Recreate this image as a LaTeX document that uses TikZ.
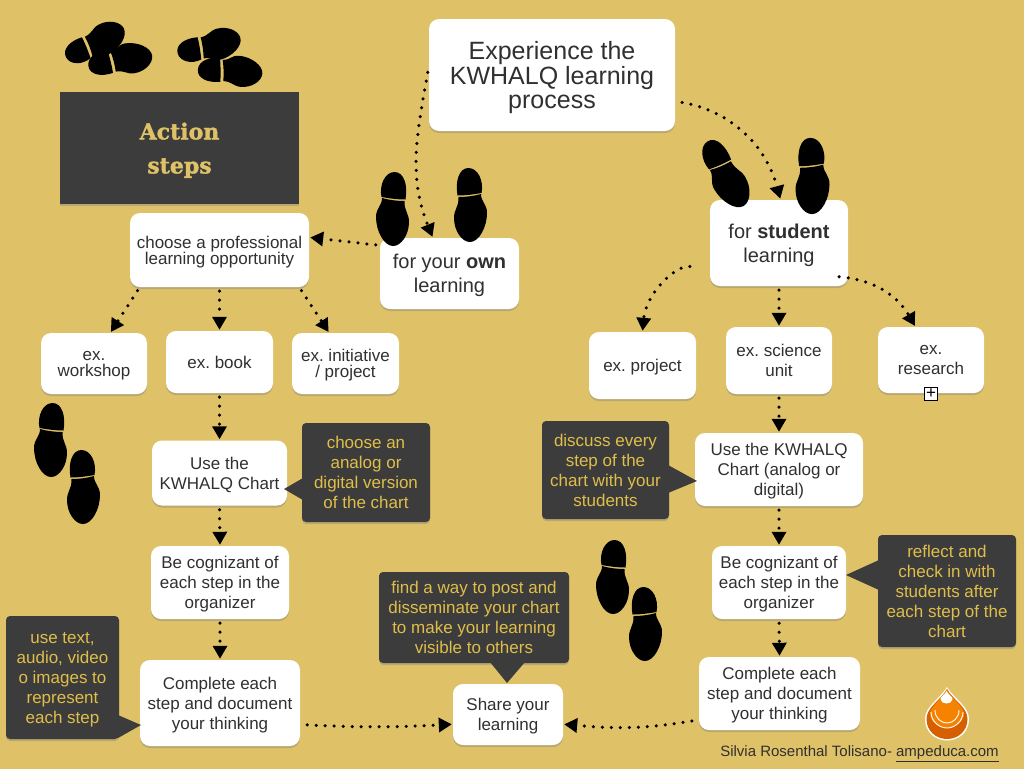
\documentclass[tikz,border=0pt]{standalone}
\usepackage{fontspec}
\setmainfont{Liberation Sans}
\newfontfamily\slabfont{DejaVu Serif}[FakeBold=1.6]
\usetikzlibrary{arrows.meta,shadows}
\definecolor{sandbg}{HTML}{DFC267}
\definecolor{darkbg}{HTML}{3C3C3C}
\definecolor{darktext}{HTML}{E0BE4A}
\definecolor{softink}{HTML}{303030}
\definecolor{dropdark}{HTML}{D65F00}
\definecolor{droplight}{HTML}{F58200}
\tikzset{
  softshadow/.style={drop shadow={shadow xshift=0pt,shadow yshift=-2pt,opacity=.4}},
  stepbox/.style={rectangle,rounded corners=10pt,fill=white,softshadow,align=center,inner sep=0pt,text=softink,text depth=0pt,font=\fontsize{17}{20}\selectfont},
  darkbox/.style={rectangle,rounded corners=4pt,fill=darkbg,softshadow,align=center,inner sep=0pt,text=darktext,text depth=0pt,font=\fontsize{17}{20}\selectfont},
  dotline/.style={line width=3.5pt,line cap=round,dash pattern=on 0pt off 9pt,shorten <=4pt,shorten >=1pt,-{Triangle[width=14pt,length=13pt]}},
  pics/shoeprint/.style={code={
    \fill[shift={(0,-#1)}] (-11.5,-12) .. controls (-14,-24) and (-8,-37) .. (1.5,-37) .. controls (11,-37) and (15,-24) .. (12.5,-9.5) .. controls (4,-9.5) and (-4,-10.7) .. (-11.5,-12) -- cycle;
    \fill (-11,-11) .. controls (-4,-9) and (4,-8) .. (11.5,-8) .. controls (11,2) and (16,4) .. (16,13) .. controls (16,26) and (8,37) .. (0,37) .. controls (-9,37) and (-17,22) .. (-17,8) .. controls (-17,-1) and (-11,-3) .. (-11,-11) -- cycle;
  }},
  pics/shoeprint/.default=0
}
\begin{document}
\frenchspacing
\begin{tikzpicture}[x=1pt,y=-1pt]
  \fill[sandbg] (0,0) rectangle (1024,769);
  \useasboundingbox (0,0) rectangle (1024,769);

  % Title and the two branches
  \node[stepbox,minimum width=246pt,minimum height=112pt,font=\fontsize{25}{24.5}\selectfont] (title) at (552,75) {Experience the\\KWHALQ learning\\process};
  \node[stepbox,minimum width=139pt,minimum height=71pt,font=\fontsize{20}{24}\selectfont] (own) at (449.5,273.5) {for your \textbf{own}\\learning};
  \node[stepbox,minimum width=138pt,minimum height=86pt,font=\fontsize{20}{24}\selectfont] (student) at (779,243) {for \textbf{student}\\learning};

  % Action steps heading
  \node[rectangle,fill=darkbg,softshadow,minimum width=239pt,minimum height=112pt,align=center,inner sep=0pt,text=sandbg,text depth=0pt,font=\fontsize{22}{34}\selectfont\slabfont\bfseries] (action) at (179.5,148) {Action\\steps};

  % Left column
  \node[stepbox,minimum width=179pt,minimum height=74pt,font=\fontsize{17}{16}\selectfont] (choose) at (219.5,250) {choose a professional\\learning opportunity};
  \node[stepbox,minimum width=106pt,minimum height=61pt,font=\fontsize{17}{16}\selectfont] (workshop) at (94,363.5) {ex.\\workshop};
  \node[stepbox,minimum width=107pt,minimum height=62pt] (book) at (219.5,362) {ex. book};
  \node[stepbox,minimum width=107pt,minimum height=61pt,font=\fontsize{17}{16}\selectfont] (initiative) at (345.5,363.5) {ex. initiative\\/ project};
  \node[stepbox,minimum width=135pt,minimum height=65pt] (chartL) at (219.5,473) {Use the\\KWHALQ Chart};
  \node[stepbox,minimum width=138pt,minimum height=73pt] (cogL) at (220,582.5) {Be cognizant of\\each step in the\\organizer};
  \node[stepbox,minimum width=160pt,minimum height=86pt] (docL) at (220,703) {Complete each\\step and document\\your thinking};

  % Right column
  \node[stepbox,minimum width=107pt,minimum height=67pt] (project) at (642.5,365.5) {ex. project};
  \node[stepbox,minimum width=106pt,minimum height=67pt] (science) at (779,360.5) {ex. science\\unit};
  \node[stepbox,minimum width=106pt,minimum height=66pt] (research) at (931,360) {ex.\\research};
  \node[rectangle,draw=black,fill=white,thick,minimum size=13pt,inner sep=0pt,font=\fontsize{17}{17}\selectfont] (more) at (931,394) {+};
  \node[stepbox,minimum width=168pt,minimum height=73pt] (chartR) at (779,469.5) {Use the KWHALQ\\Chart (analog or\\digital)};
  \node[stepbox,minimum width=134pt,minimum height=73pt] (cogR) at (779,582.5) {Be cognizant of\\each step in the\\organizer};
  \node[stepbox,minimum width=161pt,minimum height=73pt] (docR) at (779.5,693.5) {Complete each\\step and document\\your thinking};

  % Shared last step
  \node[stepbox,minimum width=110pt,minimum height=61pt] (share) at (508,714.5) {Share your\\learning};

  % Dark notes with their pointers
  \node[darkbox,minimum width=128pt,minimum height=99pt] (analog) at (366,472.5) {choose an\\analog or\\digital version\\of the chart};
  \fill[darkbg] (303,478) -- (284,489) -- (303,500) -- cycle;
  \node[darkbox,minimum width=113pt,minimum height=123pt] (media) at (62.5,677.5) {use text,\\audio, video\\o images to\\represent\\each step};
  \fill[darkbg] (118,715) -- (141,725) -- (118,738) -- cycle;
  \node[darkbox,minimum width=127pt,minimum height=98pt] (discuss) at (605.5,470) {discuss every\\step of the\\chart with your\\students};
  \fill[darkbg] (668,465) -- (697,481) -- (668,493) -- cycle;
  \node[darkbox,minimum width=190pt,minimum height=91pt] (post) at (474,617.5) {find a way to post and\\disseminate your chart\\to make your learning\\visible to others};
  \fill[darkbg] (490,662) -- (507,683) -- (525,662) -- cycle;
  \node[darkbox,minimum width=138pt,minimum height=112pt] (reflect) at (947,591) {reflect and\\check in with\\students after\\each step of the\\chart};
  \fill[darkbg] (879,560) -- (846,575) -- (879,590) -- cycle;

  % Dotted arrows from the top
  \draw[dotline,shorten <=6pt] (title.176) to[out=-100,in=112] (own.115);
  \draw[dotline,shorten <=7pt] (title.-12) to[out=-10,in=105] (student.88);
  \draw[dotline] (own.158) -- (choose.8);
  \draw[dotline,shorten <=20pt] (student.200) to[out=175,in=85] (project.north);
  \draw[dotline] (student.south) -- (science.north);
  \draw[dotline,shorten <=0pt] ([xshift=-9pt]student.-26) to[out=-5,in=120] (research.115);

  % Dotted arrows on the left
  \draw[dotline] (choose.205) -- (workshop.62);
  \draw[dotline] (choose.south) -- (book.north);
  \draw[dotline] (choose.-25) -- (initiative.118);
  \draw[dotline] (book.south) -- (chartL.north);
  \draw[dotline] (chartL.south) -- (cogL.north);
  \draw[dotline] (cogL.south) -- (docL.north);

  % Dotted arrows on the right
  \draw[dotline] (science.south) -- (chartR.north);
  \draw[dotline] (chartR.south) -- (cogR.north);
  \draw[dotline] (cogR.south) -- (docR.north);

  % Both ways into the last step
  \draw[dotline,shorten <=7pt] (docL.-15) to[out=-3,in=183] (share.190);
  \draw[dotline,shorten <=7pt] (docR.198) to[out=190,in=-5] (share.-10);

  % Footprints
  \pic[scale=.85,rotate=118,xscale=1.1] at (96,43) {shoeprint=2};
  \pic[scale=.85,rotate=98,xscale=-1.1] at (121,60) {shoeprint=2};
  \pic[scale=.85,rotate=105,xscale=1.1] at (210,46) {shoeprint=2};
  \pic[scale=.85,rotate=85,xscale=-1.1] at (231,71) {shoeprint=2};
  \pic at (393,209) {shoeprint};
  \pic[xscale=-1] at (470,205) {shoeprint};
  \pic[rotate=30] at (725,174) {shoeprint};
  \pic[scale=1.03,xscale=-1] at (812,176) {shoeprint};
  \pic at (51,440) {shoeprint};
  \pic[xscale=-1] at (83,487) {shoeprint};
  \pic at (613,577) {shoeprint};
  \pic[xscale=-1] at (645,624) {shoeprint};

  % Drop logo
  \fill[white] (947,687) .. controls (940,699) and (925,706) .. (925,719) .. controls (925,732) and (935,740.5) .. (947,740.5) .. controls (959,740.5) and (969,732) .. (969,719) .. controls (969,706) and (954,699) .. (947,687) -- cycle;
  \fill[dropdark] (947,689) .. controls (941,700) and (926.5,707) .. (926.5,719) .. controls (926.5,731) and (936,739) .. (947,739) .. controls (958,739) and (967.5,731) .. (967.5,719) .. controls (967.5,707) and (953,700) .. (947,689) -- cycle;
  \fill[droplight] (947,689) .. controls (942,700) and (930,706) .. (930,714) .. controls (930,722) and (940,728) .. (947,728) .. controls (954,728) and (964,722) .. (964,714) .. controls (964,706) and (952,700) .. (947,689) -- cycle;
  \draw[white,line width=.9pt] (931,712) .. controls (931,722) and (940,728) .. (947,728) .. controls (954,728) and (963,722) .. (963,712);
  \draw[white,line width=.9pt] (935,710) .. controls (935,718) and (941,723) .. (947,723) .. controls (953,723) and (959,718) .. (959,710);
  \fill[white] (946.5,691) .. controls (945,695) and (940.5,696) .. (940.5,699) .. controls (940.5,702) and (943.5,703.5) .. (946.5,703.5) .. controls (949.5,703.5) and (952.5,702) .. (952.5,699) .. controls (952.5,696) and (948,695) .. (946.5,691) -- cycle;

  % Credit line
  \node[inner sep=0pt,text=softink,font=\fontsize{15}{16}\selectfont] (credit) at (859.5,754) {Silvia Rosenthal Tolisano- \underline{ampeduca.com}};
\end{tikzpicture}
\end{document}
